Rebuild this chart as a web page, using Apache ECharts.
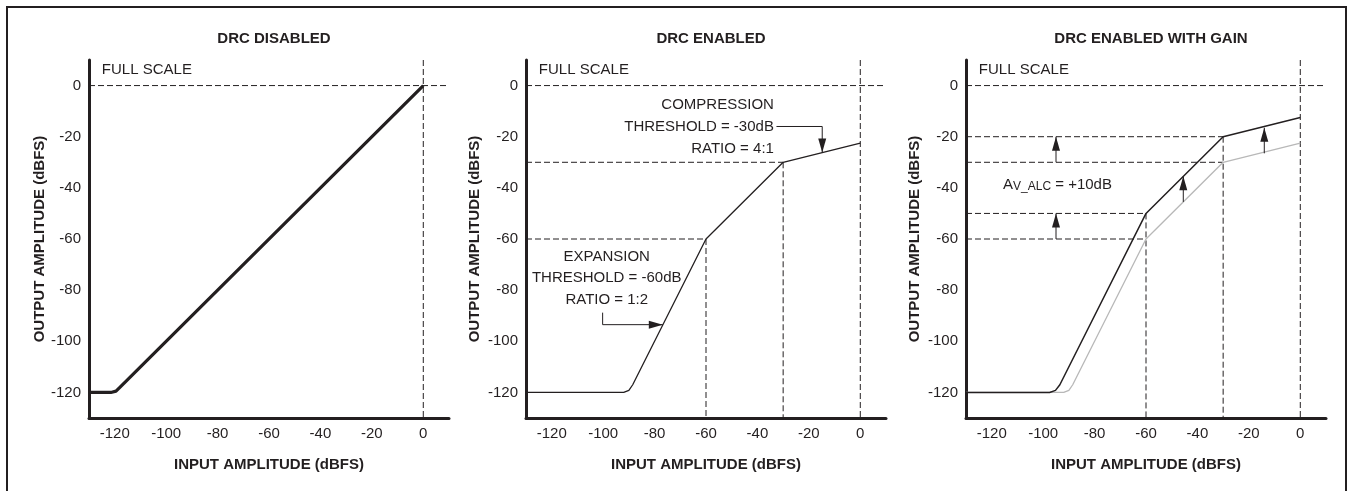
<!DOCTYPE html>
<html>
<head>
<meta charset="utf-8">
<script src="https://cdn.jsdelivr.net/npm/echarts@6/dist/echarts.min.js"></script>
<style>
html,body{margin:0;padding:0;background:#fff;}
#chart{width:1349px;height:491px;}
</style>
</head>
<body>
<div id="chart"></div>
<script>
// ---------- data ----------
const titles = ['DRC DISABLED', 'DRC ENABLED', 'DRC ENABLED WITH GAIN'];
const xAxisName = 'INPUT AMPLITUDE (dBFS)';
const yAxisName = 'OUTPUT AMPLITUDE (dBFS)';
const xTicks = [-120, -100, -80, -60, -40, -20, 0];
const yTicks = [-120, -100, -80, -60, -40, -20, 0];

// DRC disabled transfer curve
const disabledIn  = [-130, -121.5, -119.5, -118, 0];
const disabledOut = [-120, -120, -119.5, -118, 0];

// DRC enabled transfer curve
const enabledIn  = [-130, -92, -90, -88.5, -60, -30, 0];
const enabledOut = [-120, -120, -119.2, -117, -60, -30, -22.5];

// DRC enabled with +10dB gain
const gainIn  = [-130, -97.5, -95.2, -93.5, -60, -30, 0];
const gainOut = [-120, -120, -119.2, -117, -50, -20, -12.5];

// dashed guide segments per panel: [x1, y1, x2, y2]
const guides1 = [[-130, 0, 10, 0], [0, 10, 0, -130]];
const guides2 = [[-130, 0, 10, 0], [0, 10, 0, -130],
                 [-130, -30, -30, -30], [-30, -30, -30, -130],
                 [-130, -60, -60, -60], [-60, -60, -60, -130]];
const guides3 = [[-130, 0, 10, 0], [0, 10, 0, -130],
                 [-130, -20, -30, -20], [-130, -30, -30, -30], [-30, -20, -30, -130],
                 [-130, -50, -60, -50], [-130, -60, -60, -60], [-60, -50, -60, -130]];

// annotation arrows (polyline points, arrowhead at last point)
const compArrow = [[-32.6, -16], [-14.8, -16], [-14.8, -26.2]];
const expArrow  = [[-100.2, -88.8], [-100.2, -93.5], [-76.8, -93.5]];
const gainArrows = [
  [[-95, -30], [-95, -20]],
  [[-95, -60], [-95, -50]],
  [[-45.5, -45.5], [-45.5, -35.5]],
  [[-14, -26.5], [-14, -16.5]]
];

// annotation texts
const fullScale = 'FULL SCALE';
const compText = 'COMPRESSION\nTHRESHOLD = -30dB\nRATIO = 4:1';
const expText = 'EXPANSION\nTHRESHOLD = -60dB\nRATIO = 1:2';
const gainText = ['A', 'V_ALC', ' = +10dB'];

// ---------- chart ----------
const FONT = "'Liberation Sans', Arial, sans-serif";
const FS = 15;
const INK = '#231f20';
const zip = (a, b) => a.map((v, i) => [v, b[i]]);

const grids = [
  {left: 89, top: 60, width: 360, height: 358},
  {left: 526, top: 60, width: 360, height: 358},
  {left: 966, top: 60, width: 360, height: 358}
];
const yNameGaps = [42, 43.5, 43.5];

const xAxes = grids.map((g, i) => ({
  gridIndex: i, type: 'value', min: -130, max: 10, interval: 10,
  name: xAxisName, nameLocation: 'middle', nameGap: 39.5, nameMoveOverlap: false,
  nameTextStyle: {fontFamily: FONT, fontSize: FS, fontWeight: 'bold', color: INK},
  axisLine: {show: true, onZero: false, lineStyle: {color: INK, width: 3}},
  axisTick: {show: false}, splitLine: {show: false},
  axisLabel: {margin: 8, fontFamily: FONT, fontSize: FS, color: INK,
    formatter: v => xTicks.includes(v) ? String(v) : ''}
}));
const yAxes = grids.map((g, i) => ({
  gridIndex: i, type: 'value', min: -130, max: 10, interval: 10,
  name: yAxisName, nameLocation: 'middle', nameGap: yNameGaps[i], nameRotate: 90, nameMoveOverlap: false,
  nameTextStyle: {fontFamily: FONT, fontSize: FS, fontWeight: 'bold', color: INK},
  axisLine: {show: true, onZero: false, lineStyle: {color: INK, width: 3}},
  axisTick: {show: false}, splitLine: {show: false},
  axisLabel: {margin: 8, fontFamily: FONT, fontSize: FS, color: INK,
    formatter: v => yTicks.includes(v) ? String(v) : ''}
}));

const series = [];
function lineSeries(i, pts, style, z) {
  series.push({type: 'line', xAxisIndex: i, yAxisIndex: i, data: pts, symbol: 'none',
    lineStyle: style, silent: true, animation: false, z: z || 2, clip: false});
}
const dashed = {color: INK, width: 1, type: [6, 3]};
[guides1, guides2, guides3].forEach((gs, i) => {
  gs.forEach(s => lineSeries(i, [[s[0], s[1]], [s[2], s[3]]], dashed, 1));
});

lineSeries(0, zip(disabledIn, disabledOut), {color: INK, width: 3.2, join: 'round'}, 5);
lineSeries(1, zip(enabledIn, enabledOut), {color: INK, width: 1.3}, 5);
lineSeries(2, zip(enabledIn, enabledOut), {color: '#b8b8b8', width: 1.3}, 4);
lineSeries(2, zip(gainIn, gainOut), {color: INK, width: 1.5}, 5);

// arrows: direction from last two points
function arrow(i, pts) {
  const n = pts.length;
  const dx = pts[n - 1][0] - pts[n - 2][0];
  const dy = pts[n - 1][1] - pts[n - 2][1];
  let rot = 0, off = [0, 7];
  if (Math.abs(dx) > Math.abs(dy)) { rot = dx > 0 ? -90 : 90; off = dx > 0 ? [-7, 0] : [7, 0]; }
  else { rot = dy > 0 ? 0 : 180; off = dy > 0 ? [0, 7] : [0, -7]; }
  const data = pts.map((p, k) => k < n - 1 ? {value: p, symbol: 'none'} :
    {value: p, symbol: 'triangle', symbolSize: [8, 14], symbolRotate: rot, symbolOffset: off});
  series.push({type: 'line', xAxisIndex: i, yAxisIndex: i, data: data, showSymbol: true,
    symbol: 'none', itemStyle: {color: INK, opacity: 1}, lineStyle: {color: INK, width: 1},
    silent: true, animation: false, z: 6, clip: false});
}
arrow(1, compArrow);
arrow(1, expArrow);
gainArrows.forEach(a => arrow(2, a));

// texts
function textLabel(i, pos, text, align, extra) {
  series.push({type: 'scatter', xAxisIndex: i, yAxisIndex: i, symbolSize: 0, silent: true,
    animation: false, z: 7, itemStyle: {opacity: 1},
    data: [{value: pos}],
    label: Object.assign({show: true, position: 'inside', formatter: text, align: align,
      verticalAlign: 'middle', fontFamily: FONT, fontSize: FS, color: INK, opacity: 1,
      lineHeight: 22}, extra || {})});
}
[0, 1, 2].forEach(i => textLabel(i, [-125, 6], fullScale, 'left'));
textLabel(1, [-33.6, -16.3], compText, 'right');
textLabel(1, [-98.6, -75.2], expText, 'center', {lineHeight: 21.5});
textLabel(2, [-115.6, -38.7], '{a|' + gainText[0] + '}{s|' + gainText[1] + '}{a|' + gainText[2] + '}', 'left',
  {rich: {a: {fontFamily: FONT, fontSize: FS, color: INK},
          s: {fontFamily: FONT, fontSize: 12, color: INK, padding: [5, 0, 0, 0]}}});

const option = {
  animation: false,
  backgroundColor: '#fff',
  title: titles.map((t, i) => ({
    text: t, left: grids[i].left + grids[i].width / 2, top: 26, textAlign: 'center',
    textStyle: {fontFamily: FONT, fontSize: FS, fontWeight: 'bold', color: INK}
  })),
  grid: grids,
  xAxis: xAxes,
  yAxis: yAxes,
  series: series,
  graphic: [{type: 'rect', shape: {x: 7, y: 7, width: 1339, height: 520},
    style: {fill: 'none', stroke: INK, lineWidth: 2}, silent: true}]
};

const chart = echarts.init(document.getElementById('chart'), null, {renderer: 'canvas'});
chart.setOption(option);
</script>
</body>
</html>
